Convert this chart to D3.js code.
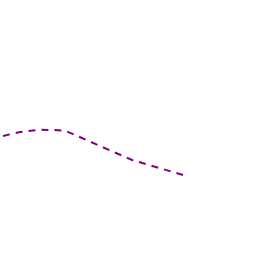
<!DOCTYPE html>
<html><head><meta charset="utf-8">
<script src="https://cdn.jsdelivr.net/npm/d3@7"></script>
<style>html,body{margin:0;padding:0;background:#fff;}</style>
</head><body>
<script>
const xVals = [0, 17, 37, 52, 63, 129, 180];
const yVals = [64, 68, 70.2, 70, 69, 40, 25];

const svg = d3.select("body").append("svg").attr("width",256).attr("height",256);
const x = d3.scaleLinear().domain([0,180]).range([3,183]);
const y = d3.scaleLinear().domain([0,100]).range([200,100]);
const data = xVals.map((v,i)=>({x:v,y:yVals[i]}));
const line = d3.line().x(d=>x(d.x)).y(d=>y(d.y));
svg.append("path").datum(data).attr("d",line)
  .attr("fill","none").attr("stroke","#800080").attr("stroke-width",2)
  .attr("stroke-dasharray","7,6");
</script>
</body></html>
